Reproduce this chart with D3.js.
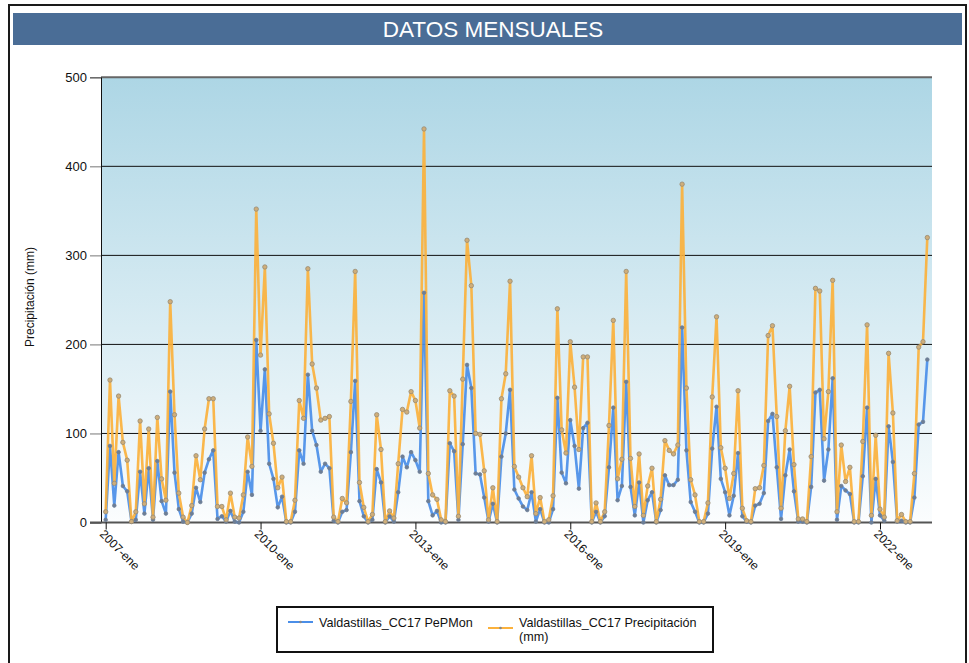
<!DOCTYPE html>
<html lang="es">
<head>
<meta charset="UTF-8">
<title>Datos mensuales</title>
<style>
  body { margin: 0; background: #fff; font-family: "Liberation Sans", Arial, sans-serif; }
  svg { display: block; }
</style>
</head>
<body>
<div id="chart"></div>
<script src="https://d3js.org/d3.v7.min.js"></script>
<script>
// categorias: meses desde 2007-ene hasta 2022-dic
const meses = ["ene", "feb", "mar", "abr", "may", "jun", "jul", "ago", "sep", "oct", "nov", "dic"];
const anios = d3.range(2007, 2023);
const categorias = anios.flatMap(a => meses.map(m => a + "-" + m));

// Valdastillas_CC17 PePMon
const pepmon = [
  3, 86, 19, 79, 41, 35, 1, 3, 57, 10, 61, 3,
  69, 24, 10, 147, 56, 15, 1, 0, 10, 39, 23, 56,
  71, 81, 4, 7, 1, 13, 1, 0, 12, 57, 31, 205,
  103, 172, 66, 49, 17, 29, 0, 0, 12, 81, 66, 166,
  103, 87, 57, 66, 61, 2, 0, 12, 14, 79, 159, 24,
  7, 0, 3, 60, 45, 0, 7, 1, 34, 74, 62, 79,
  70, 57, 258, 24, 8, 13, 0, 0, 89, 80, 3, 88,
  177, 151, 55, 54, 28, 1, 21, 0, 74, 100, 149, 37,
  27, 18, 14, 34, 1, 15, 0, 0, 15, 140, 56, 44,
  115, 86, 38, 106, 112, 0, 12, 0, 7, 62, 129, 25,
  41, 158, 40, 8, 45, 0, 25, 34, 0, 14, 53, 42,
  42, 48, 219, 81, 23, 12, 0, 0, 10, 83, 130, 49,
  34, 8, 30, 78, 7, 1, 0, 19, 21, 33, 114, 122,
  62, 4, 53, 82, 35, 1, 1, 0, 40, 146, 149, 47,
  82, 162, 3, 41, 36, 32, 0, 0, 52, 129, 0, 49,
  8, 2, 108, 68, 1, 2, 0, 0, 28, 110, 113, 183
];

// Valdastillas_CC17 Precipitación (mm)
const precipitacion = [
  12, 160, 44, 142, 90, 70, 1, 12, 114, 21, 105, 6,
  118, 49, 25, 248, 121, 33, 6, 0, 19, 75, 48, 105,
  139, 139, 18, 18, 3, 33, 6, 5, 31, 96, 63, 352,
  188, 287, 122, 89, 39, 51, 1, 1, 25, 137, 117, 285,
  178, 151, 115, 117, 119, 6, 1, 27, 22, 136, 282, 45,
  17, 1, 9, 121, 82, 1, 13, 5, 66, 127, 124, 147,
  137, 106, 442, 55, 31, 26, 3, 1, 148, 142, 7, 161,
  317, 266, 100, 99, 58, 3, 39, 1, 139, 167, 271, 63,
  51, 39, 29, 75, 10, 28, 1, 3, 30, 240, 104, 78,
  203, 152, 82, 186, 186, 1, 22, 1, 12, 109, 227, 49,
  71, 282, 72, 18, 77, 8, 41, 61, 1, 26, 92, 81,
  77, 87, 380, 151, 48, 31, 1, 1, 22, 141, 231, 84,
  61, 27, 55, 148, 16, 2, 1, 38, 39, 64, 210, 221,
  119, 16, 103, 153, 65, 4, 4, 1, 74, 263, 260, 94,
  147, 272, 12, 87, 46, 62, 1, 1, 91, 222, 8, 98,
  15, 6, 190, 123, 2, 9, 1, 1, 55, 197, 203, 320
];

const yTicks = [0, 100, 200, 300, 400, 500];
const xTicks = ["2007-ene", "2010-ene", "2013-ene", "2016-ene", "2019-ene", "2022-ene"];
const nombres = ["Valdastillas_CC17 PePMon", "Valdastillas_CC17 Precipitación", "(mm)"];
const colores = ["#4a8ee8", "#fbb13c"];

const W = 969, H = 663;
const plot = { left: 101, right: 932, top: 77.3, bottom: 522.5 };

const svg = d3.select("#chart").append("svg")
  .attr("width", W)
  .attr("height", H);

// marco y titulo
svg.append("rect")
  .attr("x", 9).attr("y", 5)
  .attr("width", 957).attr("height", 680)
  .attr("fill", "#fff")
  .attr("stroke", "#1a1a1a")
  .attr("stroke-width", 2);

svg.append("rect")
  .attr("x", 13).attr("y", 13)
  .attr("width", 949).attr("height", 32)
  .attr("fill", "#4a6d96");

svg.append("text")
  .attr("x", 493).attr("y", 37)
  .attr("text-anchor", "middle")
  .attr("fill", "#fff")
  .attr("font-size", 22.5)
  .text("DATOS MENSUALES");

// fondo degradado
const grad = svg.append("defs").append("linearGradient")
  .attr("id", "fondo")
  .attr("x1", 0).attr("y1", 0).attr("x2", 0).attr("y2", 1);
grad.append("stop").attr("offset", "0%").attr("stop-color", "#add6e5");
grad.append("stop").attr("offset", "100%").attr("stop-color", "#fbfdfe");

svg.append("rect")
  .attr("x", plot.left).attr("y", plot.top)
  .attr("width", plot.right - plot.left)
  .attr("height", plot.bottom - plot.top)
  .attr("fill", "url(#fondo)");

const x = d3.scalePoint()
  .domain(categorias)
  .range([plot.left, plot.right])
  .padding(1.09);

const y = d3.scaleLinear()
  .domain([0, 500])
  .range([plot.bottom, plot.top]);

// lineas de la rejilla
svg.append("g")
  .selectAll("line")
  .data(yTicks.filter(d => d > 0))
  .join("line")
  .attr("x1", plot.left).attr("x2", plot.right)
  .attr("y1", d => y(d)).attr("y2", d => y(d))
  .attr("stroke", d => d === 500 ? "#666" : "#111")
  .attr("stroke-width", d => d === 500 ? 2 : 1);

// eje y
const ejeY = svg.append("g")
  .attr("transform", `translate(${plot.left},0)`)
  .call(d3.axisLeft(y).tickValues(yTicks).tickSize(11).tickPadding(3));
ejeY.select(".domain").attr("stroke", "#111");
ejeY.selectAll(".tick line").attr("stroke", "#777");
ejeY.selectAll("text")
  .attr("font-size", 13)
  .attr("font-family", "Liberation Sans, Arial, sans-serif")
  .attr("fill", "#111");

svg.append("text")
  .attr("transform", "translate(34,297) rotate(-90)")
  .attr("text-anchor", "middle")
  .attr("font-size", 12)
  .attr("fill", "#111")
  .text("Precipitación (mm)");

// eje x
const ejeX = svg.append("g")
  .attr("transform", `translate(0,${plot.bottom})`)
  .call(d3.axisBottom(x).tickValues(xTicks).tickSize(7).tickSizeOuter(0));
ejeX.select(".domain")
  .attr("d", `M${plot.left - 11},0H${plot.right}`)
  .attr("stroke", "#555")
  .attr("stroke-width", 2);
ejeX.selectAll(".tick line").attr("stroke", "#111");
ejeX.selectAll("text")
  .attr("font-size", 12)
  .attr("font-family", "Liberation Sans, Arial, sans-serif")
  .attr("fill", "#111")
  .attr("text-anchor", "start")
  .attr("transform", "translate(4,1) rotate(45)")
  .attr("dy", "0.5em");

// series
const datos = [pepmon, precipitacion];
const linea = d3.line()
  .x((d, i) => x(categorias[i]))
  .y(d => y(d));

datos.forEach((serie, k) => {
  svg.append("path")
    .datum(serie)
    .attr("fill", "none")
    .attr("stroke", colores[k])
    .attr("stroke-width", 2.6)
    .attr("stroke-opacity", 0.92)
    .attr("stroke-linejoin", "round")
    .attr("d", linea);
});

datos.forEach((serie, k) => {
  svg.append("g")
    .selectAll("circle")
    .data(serie)
    .join("circle")
    .attr("cx", (d, i) => x(categorias[i]))
    .attr("cy", d => y(d))
    .attr("r", k === 0 ? 1.8 : 2.2)
    .attr("fill", k === 0 ? "#6d7e95" : "#cfae7a")
    .attr("stroke", k === 0 ? "#6d7e95" : "#978a74")
    .attr("stroke-width", 0.8);
});

// leyenda
const ley = svg.append("g");
ley.append("rect")
  .attr("x", 277).attr("y", 607)
  .attr("width", 436).attr("height", 45)
  .attr("fill", "#fff")
  .attr("stroke", "#111")
  .attr("stroke-width", 2);

const muestras = [
  { x1: 288, x2: 313, y: 622, tx: 319 },
  { x1: 488, x2: 513, y: 628, tx: 519 }
];
muestras.forEach((m, k) => {
  ley.append("line")
    .attr("x1", m.x1).attr("x2", m.x2)
    .attr("y1", m.y).attr("y2", m.y)
    .attr("stroke", colores[k])
    .attr("stroke-width", 2);
  ley.append("circle")
    .attr("cx", (m.x1 + m.x2) / 2).attr("cy", m.y)
    .attr("r", 1.3)
    .attr("fill", "#888");
  ley.append("text")
    .attr("x", m.tx).attr("y", 627)
    .attr("font-size", 12.6)
    .attr("fill", "#111")
    .text(nombres[k]);
});
ley.append("text")
  .attr("x", 519).attr("y", 640.5)
  .attr("font-size", 12.6)
  .attr("fill", "#111")
  .text(nombres[2]);
</script>
</body>
</html>
